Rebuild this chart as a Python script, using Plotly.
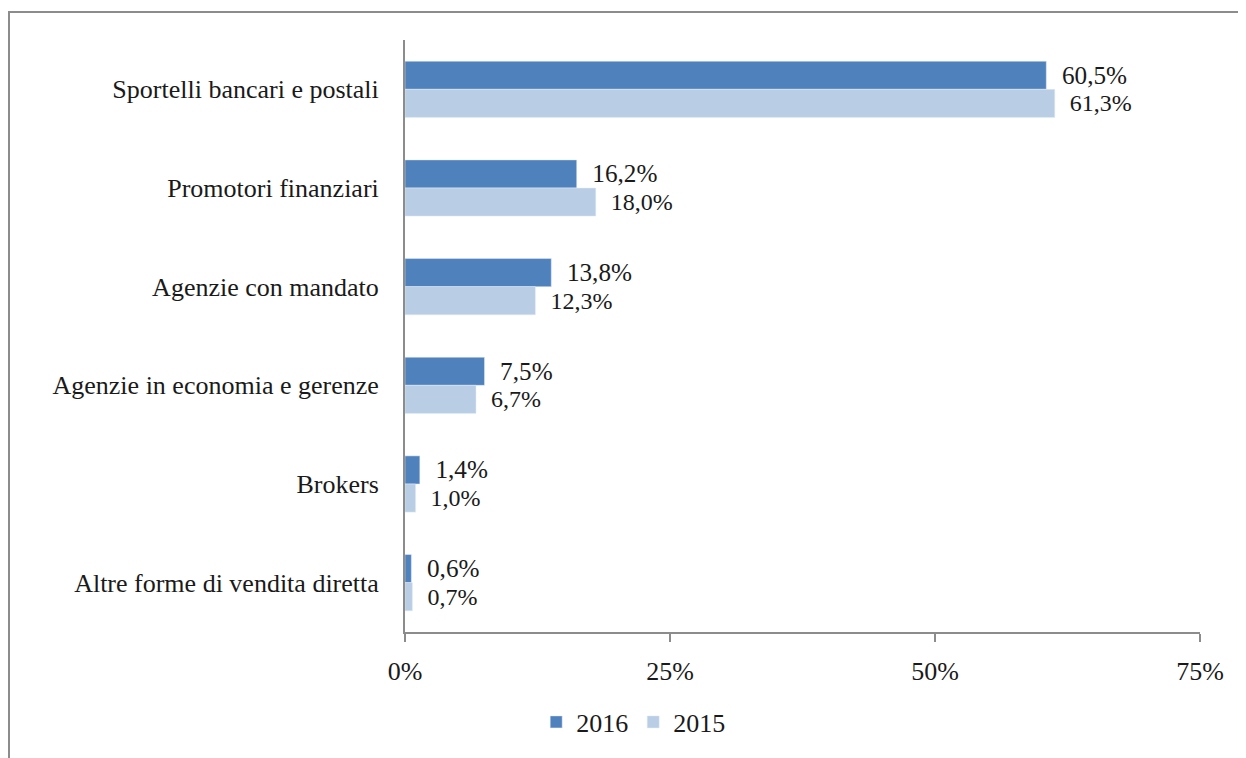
import plotly.graph_objects as go

categories = ["Sportelli bancari e postali", "Promotori finanziari", "Agenzie con mandato",
              "Agenzie in economia e gerenze", "Brokers", "Altre forme di vendita diretta"]
v2016 = [60.5, 16.2, 13.8, 7.5, 1.4, 0.6]
v2015 = [61.3, 18.0, 12.3, 6.7, 1.0, 0.7]
xticks = [0, 25, 50, 75]
xticklabels = ["0%", "25%", "50%", "75%"]

def lab(v):
    return ["  " + f"{x:.1f}".replace(".", ",") + "%" for x in v]

FONT = "Liberation Serif, Times New Roman, serif"
# page body has an 8px margin, so the figure is placed at (8, 8)
OFF = 8
W, H = 1246 - OFF, 758 - OFF
L, R, T, B = 405 - OFF, 46, 40 - OFF, 126

fig = go.Figure()
fig.add_trace(go.Bar(y=categories, x=v2016, name="2016", orientation="h",
                     marker=dict(color="#4F81BD"), text=lab(v2016), textposition="outside",
                     textfont=dict(family=FONT, size=26, color="#1a1a1a"), cliponaxis=False))
fig.add_trace(go.Bar(y=categories, x=v2015, name="2015", orientation="h",
                     marker=dict(color="#B9CDE5"), text=lab(v2015), textposition="outside",
                     textfont=dict(family=FONT, size=24, color="#1a1a1a"), cliponaxis=False))

pw = W - L - R
ph = H - T - B
fig.add_shape(type="rect", xref="paper", yref="paper",
              x0=(1 - L) / pw, x1=(W + 20 - L) / pw,
              y0=-(H + 20 - T - ph) / ph, y1=(H - B - 4) / ph,
              line=dict(color="#8c8c8c", width=2), layer="below")

fig.update_layout(
    width=W, height=H, barmode="group", bargap=0.43, bargroupgap=0,
    margin=dict(l=L, r=R, t=T, b=B),
    plot_bgcolor="white", paper_bgcolor="white",
    font=dict(family=FONT, size=26, color="#1a1a1a"),
    showlegend=True,
    legend=dict(orientation="h", xref="container", yref="container", x=0.505, xanchor="center",
                y=1 - (722 - OFF) / H, yanchor="middle", font=dict(family=FONT, size=26),
                itemwidth=30, traceorder="normal"),
    xaxis=dict(range=[0, 75], tickvals=xticks, ticktext=xticklabels, showgrid=False,
               zeroline=False, showline=True, linecolor="#8c8c8c", linewidth=2,
               ticks="outside", ticklen=8, tickwidth=2, tickcolor="#8c8c8c",
               ticklabelstandoff=7, tickfont=dict(family=FONT, size=26)),
    yaxis=dict(autorange="reversed", showgrid=False, zeroline=False, showline=True,
               linecolor="#8c8c8c", linewidth=2, ticks="", ticklabelstandoff=19,
               tickfont=dict(family=FONT, size=26)),
)

fig.write_html("out.html")
